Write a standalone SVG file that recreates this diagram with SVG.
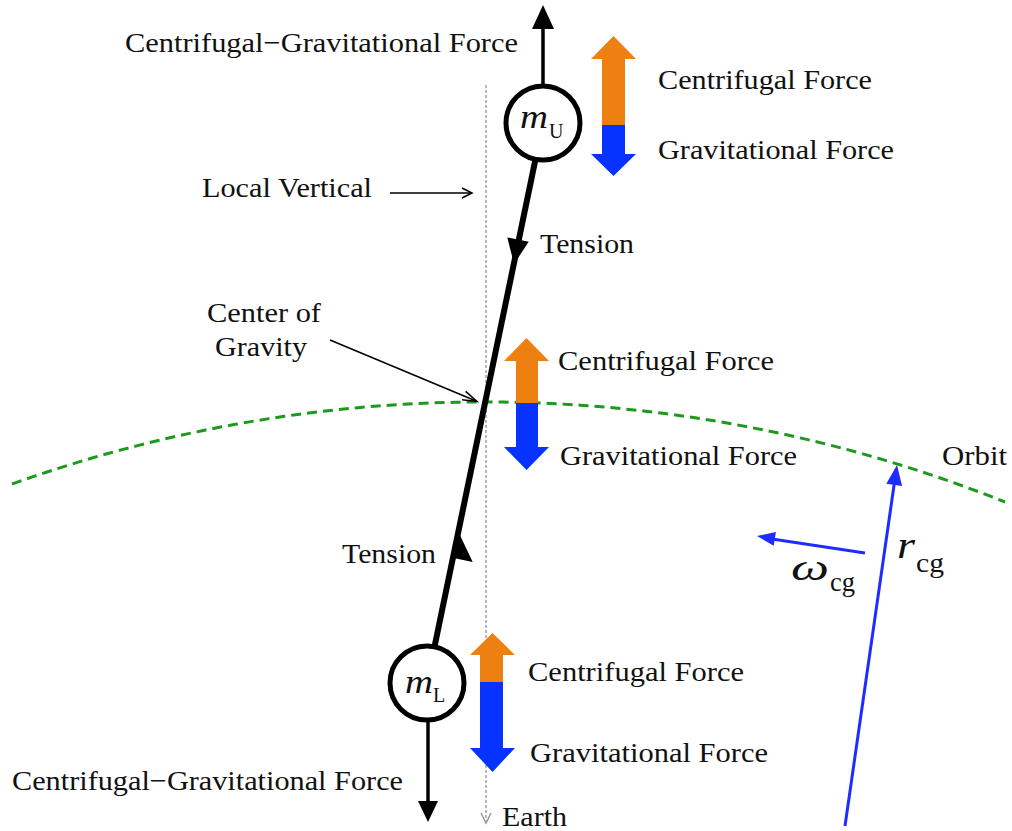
<svg xmlns="http://www.w3.org/2000/svg" width="1012" height="831" viewBox="0 0 1012 831">
<style>
  text { font-family: "Liberation Serif", "Times New Roman", Tinos, serif; fill: #111; }
  .lbl { font-size: 28px; }
  .ital { font-style: italic; }
  .orange { fill: #EE8012; }
  .blue { fill: #0633FF; }
  .mass { fill: #fff; stroke: #000; stroke-width: 5; }
  .thin { stroke: #000; stroke-width: 1.5; fill: none; }
  .vec { stroke: #1f2cff; stroke-width: 3; fill: none; }
</style>
<rect width="1012" height="831" fill="#fff"/>

<g id="local-vertical">
  <line x1="486" y1="85" x2="486" y2="821" stroke="#8a8a8a" stroke-width="1.2" stroke-dasharray="3 2"/>
  <polyline points="481,813 486,823 491,813" fill="none" stroke="#999" stroke-width="1.5"/>
</g>

<g id="orbit">
  <path d="M12,484 A1403,1403 0 0 1 1005,502" fill="none" stroke="#1b9a1b" stroke-width="3" stroke-dasharray="10 6"/>
</g>

<g id="connectors">
  <!-- tether -->
  <line x1="543" y1="123" x2="427" y2="683" stroke="#000" stroke-width="6"/>
  <!-- tension arrowheads -->
  <polygon points="514,264 507.3,237.4 528.7,241.8"/>
  <polygon points="458,531 451.3,557.6 472.7,562.0"/>
  <!-- upward resultant on upper mass -->
  <line x1="543" y1="84" x2="543" y2="26" stroke="#000" stroke-width="3.5"/>
  <polygon points="543,5 532,29 554,29"/>
  <!-- downward resultant on lower mass -->
  <line x1="428" y1="722" x2="428" y2="804" stroke="#000" stroke-width="3.5"/>
  <polygon points="428,822 418,801 438,801"/>
  <!-- Local Vertical pointer -->
  <line class="thin" x1="390" y1="193" x2="471" y2="193"/>
  <polyline class="thin" points="462,188 472,193 462,198"/>
  <!-- Center of Gravity pointer -->
  <line class="thin" x1="330" y1="340" x2="476" y2="401"/>
  <polyline class="thin" points="465.6,391.4 477,401.5 462.1,399.8"/>
  <!-- r_cg vector -->
  <line class="vec" x1="845" y1="826" x2="894.5" y2="482"/>
  <polygon points="897,465 902.1,485.9 886.3,483.7" fill="#1f2cff"/>
  <!-- omega vector -->
  <line class="vec" x1="865" y1="553" x2="772" y2="539"/>
  <polygon points="757,536 775.9,531.9 773.7,545.7" fill="#1f2cff"/>
</g>

<g id="upper-mass">
  <circle class="mass" cx="543" cy="123" r="37"/>
  <text x="520" y="128" font-size="34" class="ital" textLength="28" lengthAdjust="spacingAndGlyphs">m</text>
  <text x="549" y="138" font-size="20">U</text>
</g>

<g id="lower-mass">
  <circle class="mass" cx="427" cy="683" r="37"/>
  <text x="405" y="693" font-size="34" class="ital" textLength="28" lengthAdjust="spacingAndGlyphs">m</text>
  <text x="433" y="702" font-size="20">L</text>
</g>

<g id="upper-forces">
  <polygon class="orange" points="613.5,36 636,59 625,59 625,125 602,125 602,59 591,59"/>
  <polygon class="blue" points="602,125 625,125 625,154 636,154 613.5,176 591,154 602,154"/>
  <text class="lbl" x="658" y="89" textLength="214" lengthAdjust="spacingAndGlyphs">Centrifugal Force</text>
  <text class="lbl" x="658" y="159" textLength="236" lengthAdjust="spacingAndGlyphs">Gravitational Force</text>
</g>

<g id="cg-forces">
  <polygon class="orange" points="526.5,338 549,361 538,361 538,403 516,403 516,361 504,361"/>
  <polygon class="blue" points="516,403 538,403 538,447 549,447 526.5,470 504,447 516,447"/>
  <text class="lbl" x="558" y="370" textLength="216" lengthAdjust="spacingAndGlyphs">Centrifugal Force</text>
  <text class="lbl" x="560" y="465" textLength="237" lengthAdjust="spacingAndGlyphs">Gravitational Force</text>
</g>

<g id="lower-forces">
  <polygon class="orange" points="492.5,633 515,655 503,655 503,682 480,682 480,655 470,655"/>
  <polygon class="blue" points="480,682 503,682 503,748 515,748 492.5,772 470,748 480,748"/>
  <text class="lbl" x="528" y="681" textLength="216" lengthAdjust="spacingAndGlyphs">Centrifugal Force</text>
  <text class="lbl" x="530" y="762" textLength="238" lengthAdjust="spacingAndGlyphs">Gravitational Force</text>
</g>

<g id="labels">
  <text class="lbl" x="125" y="52" textLength="393" lengthAdjust="spacingAndGlyphs">Centrifugal−Gravitational Force</text>
  <text class="lbl" x="12" y="790" textLength="391" lengthAdjust="spacingAndGlyphs">Centrifugal−Gravitational Force</text>
  <text class="lbl" x="202" y="197" textLength="170" lengthAdjust="spacingAndGlyphs">Local Vertical</text>
  <text class="lbl" x="540" y="253" textLength="94" lengthAdjust="spacingAndGlyphs">Tension</text>
  <text class="lbl" x="342" y="563" textLength="94" lengthAdjust="spacingAndGlyphs">Tension</text>
  <text class="lbl" x="207" y="322" textLength="114" lengthAdjust="spacingAndGlyphs">Center of</text>
  <text class="lbl" x="215" y="356" textLength="92" lengthAdjust="spacingAndGlyphs">Gravity</text>
  <text class="lbl" x="502" y="826" textLength="65" lengthAdjust="spacingAndGlyphs">Earth</text>
  <text class="lbl" x="942" y="465" textLength="65" lengthAdjust="spacingAndGlyphs">Orbit</text>
  <text x="791" y="580" font-size="38" class="ital" textLength="38" lengthAdjust="spacingAndGlyphs">ω</text>
  <text x="830" y="591" font-size="27" textLength="25" lengthAdjust="spacingAndGlyphs">cg</text>
  <text x="897" y="558" font-size="38" class="ital" textLength="18" lengthAdjust="spacingAndGlyphs">r</text>
  <text x="916" y="572" font-size="27" textLength="28" lengthAdjust="spacingAndGlyphs">cg</text>
</g>
</svg>
